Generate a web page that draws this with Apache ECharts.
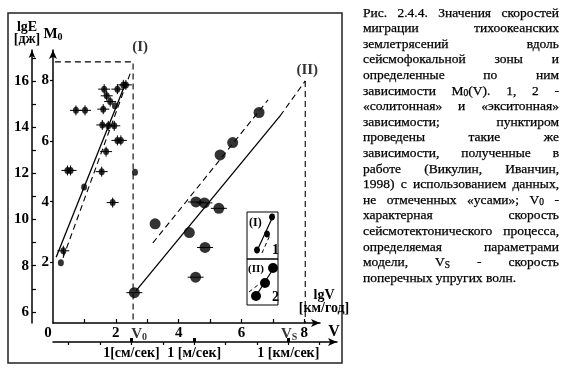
<!DOCTYPE html>
<html><head><meta charset="utf-8">
<script src="https://cdn.jsdelivr.net/npm/echarts@6/dist/echarts.min.js"></script>
<style>html,body{margin:0;padding:0;background:#fff}#c{width:563px;height:375px}</style>
</head><body><div id="c"></div>
<script>
// ---------- DATA ----------
// group (I), "soliton" law, small dots; whiskered = marked with "усы"
const solWhiskV = [1.63, 1.71, 1.82, 2.05, 2.24, 2.32, 0.73, 1.02, 1.60, 1.57, 1.76, 1.95, 2.05, 2.16, 1.69, 1.55, 0.46, 0.56, 1.90, 0.33];
const solWhiskM = [7.71, 7.49, 7.30, 7.71, 7.85, 7.85, 7.01, 7.01, 7.05, 6.53, 6.50, 6.50, 6.02, 6.02, 5.65, 4.99, 5.03, 5.03, 3.97, 2.38];
const solPlainV = [1.97, 2.61, 0.99, 0.25];
const solPlainM = [7.16, 4.97, 4.48, 1.99];
// group (II), "exciton" law, big dots
const excWhiskV = [4.55, 4.82, 5.28, 4.84, 4.54, 2.59];
const excWhiskM = [3.99, 3.96, 3.78, 2.49, 1.51, 1.00];
const excPlainV = [6.56, 5.72, 5.32, 3.25, 4.34];
const excPlainM = [6.94, 5.95, 5.54, 3.27, 2.98];
// fitted dependences
const lineIsolidV = [0.10, 2.32], lineIsolidM = [2.17, 7.93];
const lineIdashV  = [0.32, 2.50], lineIdashM  = [2.15, 8.35];
const lineIIsolidV = [2.64, 7.23], lineIIsolidM = [1.06, 6.83];
const lineIIextV   = [7.23, 8.03], lineIIextM   = [6.83, 7.98];
const lineIIdashV  = [3.18, 6.85], lineIIdashM  = [2.64, 7.36];
// characteristic velocities
const V0 = 2.55, M0top = 8.61, boxLeftV = 0.06;
const Vs = 8.03, VsTop = 7.98;
// axes
const lgVLabels = [0, 2, 4, 6, 8];
const lgVTicks = [1, 2, 3, 4, 5, 6, 7, 8];
const M0Labels = [2, 4, 6, 8];
const lgELabels = [6, 8, 10, 12, 14, 16];
const lgETicks = [6, 7, 8, 9, 10, 11, 12, 13, 14, 15, 16, 17];
const lgEMin = 5.52, lgEMax = 17.34;
const VTicks = [0.5, 1.5, 2.5, 3.5, 4.5, 5.5, 6.5, 7.5, 8.5];
const VLabelVals = [2.5, 4.5, 7.5];
const VLabelTexts = ['1[см/сек]', '1 [м/сек]', '1 [км/сек]'];
// caption
const capLines = [
  'Рис. 2.4.4. Значения скоростей',
  'миграции тихоокеанских',
  'землетрясений вдоль',
  'сейсмофокальной зоны и',
  'определенные по ним',
  'зависимости M_0(V). 1, 2 -',
  '«солитонная» и «экситонная»',
  'зависимости; пунктиром',
  'проведены такие же',
  'зависимости, полученные в',
  'работе (Викулин, Иванчин,',
  '1998) с использованием данных,',
  'не отмеченных «усами»; V_0 -',
  'характерная скорость',
  'сейсмотектонического процесса,',
  'определяемая параметрами',
  'модели, V_S - скорость',
  'поперечных упругих волн.'
];

// ---------- HELPERS ----------
const zip = (a, b) => a.map((v, i) => [v, b[i]]);
const SERIF = '"Liberation Serif", "Times New Roman", serif';
const boldText = (size) => ({ fontFamily: SERIF, fontWeight: 'bold', fontSize: size, color: '#000' });

function whisker(hw, vh) {
  return function (params, api) {
    const p = api.coord([api.value(0), api.value(1)]);
    const st = { stroke: '#000', lineWidth: 1 };
    const ch = [{ type: 'line', shape: { x1: p[0] - hw, y1: p[1], x2: p[0] + hw, y2: p[1] }, style: st }];
    if (vh) ch.push({ type: 'line', shape: { x1: p[0], y1: p[1] - vh, x2: p[0], y2: p[1] + vh }, style: st });
    return { type: 'group', children: ch };
  };
}
function lineSeries(vs, ms, dashed) {
  return {
    type: 'line', data: zip(vs, ms), symbol: 'none', silent: true, animation: false,
    lineStyle: { color: '#000', width: dashed ? 1.1 : 1.3, type: dashed ? [6, 4] : 'solid' }, z: 3
  };
}

// caption layout (justified)
const CAP_X0 = 363, CAP_X1 = 559, CAP_Y0 = 13, CAP_DY = 15.6, CAP_FS = 13.5;
const ctx = document.createElement('canvas').getContext('2d');
function wordWidth(w) {
  let tot = 0;
  w.split(/(_.)/).forEach(p => {
    if (!p) return;
    if (p[0] === '_') { ctx.font = (CAP_FS * 0.7) + 'px ' + SERIF; tot += ctx.measureText(p[1]).width; }
    else { ctx.font = CAP_FS + 'px ' + SERIF; tot += ctx.measureText(p).width; }
  });
  return tot;
}
const toRich = w => w.replace(/_(.)/g, '{s|$1}');
const capRich = {
  s: { fontSize: CAP_FS * 0.7, fontFamily: SERIF, fill: '#000', padding: [5, 0, 0, 0] }
};
const captionEls = [];
capLines.forEach((line, i) => {
  const words = line.split(' ');
  const widths = words.map(wordWidth);
  const sum = widths.reduce((a, b) => a + b, 0);
  const last = i === capLines.length - 1;
  const gap = (last || words.length < 2) ? wordWidth(' ') : (CAP_X1 - CAP_X0 - sum) / (words.length - 1);
  let x = CAP_X0;
  const y = CAP_Y0 + CAP_DY * i;
  words.forEach((w, k) => {
    captionEls.push({
      type: 'text', x: x, y: y, silent: true,
      style: { text: toRich(w), fontSize: CAP_FS, fontFamily: SERIF, fill: '#000', stroke: '#000', lineWidth: 0.25, verticalAlign: 'middle', align: 'left', rich: capRich }
    });
    x += widths[k] + gap;
  });
});

// legend inset (decoration)
const legendEls = [
  { type: 'rect', shape: { x: 247, y: 212, width: 31, height: 47 }, style: { fill: 'none', stroke: '#000', lineWidth: 1 } },
  { type: 'rect', shape: { x: 247, y: 259, width: 31, height: 46 }, style: { fill: 'none', stroke: '#000', lineWidth: 1 } },
  { type: 'text', x: 249, y: 223, style: { text: '(I)', font: 'bold 12px ' + SERIF, fill: '#000', verticalAlign: 'middle' } },
  { type: 'line', shape: { x1: 256, y1: 253, x2: 274, y2: 214 }, style: { stroke: '#000', lineWidth: 1.2 } },
  { type: 'line', shape: { x1: 262, y1: 253, x2: 270, y2: 235 }, style: { stroke: '#000', lineWidth: 1, lineDash: [4, 3] } },
  { type: 'ellipse', shape: { cx: 272, cy: 217, rx: 3, ry: 3.5 }, style: { fill: '#000' } },
  { type: 'ellipse', shape: { cx: 267, cy: 234, rx: 3, ry: 3.5 }, style: { fill: '#000' } },
  { type: 'ellipse', shape: { cx: 257, cy: 250, rx: 3, ry: 3.5 }, style: { fill: '#000' } },
  { type: 'text', x: 272, y: 250, style: { text: '1', font: 'bold 14px ' + SERIF, fill: '#000', verticalAlign: 'middle' } },
  { type: 'text', x: 248, y: 269, style: { text: '(II)', font: 'bold 11px ' + SERIF, fill: '#000', verticalAlign: 'middle' } },
  { type: 'line', shape: { x1: 254, y1: 299, x2: 275, y2: 266 }, style: { stroke: '#000', lineWidth: 1.2 } },
  { type: 'line', shape: { x1: 249, y1: 292, x2: 263, y2: 281 }, style: { stroke: '#000', lineWidth: 1, lineDash: [4, 3] } },
  { type: 'circle', shape: { cx: 273, cy: 268, r: 5 }, style: { fill: '#000' } },
  { type: 'circle', shape: { cx: 265, cy: 283, r: 5 }, style: { fill: '#000' } },
  { type: 'circle', shape: { cx: 256, cy: 296, r: 5 }, style: { fill: '#000' } },
  { type: 'text', x: 272, y: 297, style: { text: '2', font: 'bold 14px ' + SERIF, fill: '#000', verticalAlign: 'middle' } }
];

const axisLineStyle = { color: '#000', width: 1.5 };
const subRich = (size, pad) => ({ s: { fontFamily: SERIF, fontWeight: 'bold', fontSize: size, color: '#000', padding: [pad, 0, 0, 0] } });

const chart = echarts.init(document.getElementById('c'), null, { renderer: 'canvas' });
chart.setOption({
  animation: false,
  backgroundColor: '#fff',
  grid: [
    { left: 53, top: 50, width: 267, height: 273 },
    { left: 53, top: 332, width: 284, height: 10 }
  ],
  xAxis: [
    {
      gridIndex: 0, type: 'value', min: 0, max: 8.5,
      axisLine: { lineStyle: axisLineStyle, symbol: ['none', 'arrow'], symbolSize: [6, 9] },
      axisTick: { inside: true, length: 4, customValues: lgVTicks, lineStyle: { color: '#000', width: 1.2 } },
      axisLabel: {
        customValues: lgVLabels, margin: 3, ...boldText(15),
        formatter: v => v === 0 ? '{z|0}' : String(v),
        rich: { z: { ...boldText(15), padding: [0, 10, 0, 0] } }
      },
      splitLine: { show: false },
      name: 'lgV\n[км/год]', nameLocation: 'end', nameGap: 4,
      nameTextStyle: { ...boldText(14), align: 'center', verticalAlign: 'bottom', lineHeight: 13, padding: [0, 0, 8, 0] }
    },
    {
      gridIndex: 1, type: 'value', min: 0, max: 9.05, position: 'bottom',
      axisLine: { lineStyle: axisLineStyle, symbol: ['none', 'arrow'], symbolSize: [6, 9] },
      axisTick: { inside: false, length: 3, customValues: VTicks, lineStyle: { color: '#000', width: 1.2 } },
      axisLabel: {
        customValues: VLabelVals, margin: 4, ...boldText(14),
        formatter: v => VLabelTexts[VLabelVals.indexOf(v)] || ''
      },
      splitLine: { show: false },
      name: 'V', nameLocation: 'end', nameGap: -3,
      nameTextStyle: { ...boldText(16), align: 'center', verticalAlign: 'bottom', padding: [0, 0, 2, 0] }
    },
    {
      gridIndex: 1, type: 'value', min: 0, max: 9.05, position: 'bottom',
      axisLine: { show: false },
      axisTick: { inside: true, length: 4, customValues: VLabelVals, lineStyle: { color: '#000', width: 3 } },
      axisLabel: { show: false }, splitLine: { show: false }
    }
  ],
  yAxis: [
    {
      gridIndex: 0, type: 'value', min: 0, max: 9,
      axisLine: { lineStyle: axisLineStyle, symbol: ['none', 'arrow'], symbolSize: [6, 9] },
      axisTick: { inside: false, length: 3, customValues: M0Labels, lineStyle: { color: '#000', width: 1.2 } },
      axisLabel: { customValues: M0Labels, margin: 4, ...boldText(15) },
      splitLine: { show: false },
      name: 'M{s|0}', nameLocation: 'end', nameGap: 8,
      nameTextStyle: { ...boldText(15), align: 'center', verticalAlign: 'bottom', rich: subRich(10, 6) }
    },
    {
      gridIndex: 0, type: 'value', min: lgEMin, max: lgEMax, position: 'left', offset: 21,
      axisLine: { lineStyle: axisLineStyle, symbol: ['none', 'arrow'], symbolSize: [5, 8] },
      axisTick: { inside: true, length: 4, customValues: lgETicks, lineStyle: { color: '#000', width: 1.2 } },
      axisLabel: { customValues: lgELabels, margin: 3, ...boldText(15) },
      splitLine: { show: false },
      name: 'lgE\n[дж]', nameLocation: 'end', nameGap: 5,
      nameTextStyle: { ...boldText(14), align: 'center', verticalAlign: 'bottom', lineHeight: 12, padding: [0, 10, 0, 0] }
    },
    { gridIndex: 1, type: 'value', show: false, min: 0, max: 1 }
  ],
  series: [
    lineSeries(lineIsolidV, lineIsolidM, false),
    lineSeries(lineIdashV, lineIdashM, true),
    lineSeries(lineIIsolidV, lineIIsolidM, false),
    lineSeries(lineIIextV, lineIIextM, true),
    lineSeries(lineIIdashV, lineIIdashM, true),
    lineSeries([boxLeftV, V0, V0], [M0top, M0top, 0], true),
    lineSeries([Vs, Vs], [VsTop, 0], true),
    {
      type: 'custom', renderItem: whisker(6, 5), data: zip(solWhiskV, solWhiskM), silent: true, z: 4, clip: false
    },
    {
      type: 'custom', renderItem: whisker(8, 0), data: zip(excWhiskV, excWhiskM), silent: true, z: 4, clip: false
    },
    {
      type: 'scatter', data: zip(solWhiskV, solWhiskM).concat(zip(solPlainV, solPlainM)),
      symbol: 'circle', symbolSize: [6, 7], itemStyle: { color: '#000' }, z: 5, silent: true
    },
    {
      type: 'scatter', data: zip(excWhiskV, excWhiskM).concat(zip(excPlainV, excPlainM)),
      symbol: 'circle', symbolSize: 11, itemStyle: { color: '#000' }, z: 5, silent: true
    },
    {
      type: 'scatter', symbolSize: 0, silent: true, z: 6, clip: false,
      data: [
        { value: [V0, M0top], label: { show: true, formatter: '(I)', position: 'top', distance: 4, offset: [7, -3] } },
        { value: [Vs, VsTop], label: { show: true, formatter: '(II)', position: 'top', distance: 3, offset: [2, 0] } },
        { value: [V0, 0], label: { show: true, formatter: 'V{s|0}', position: 'bottom', distance: 3, offset: [6, 0] } },
        { value: [Vs, 0], label: { show: true, formatter: 'V{s|S}', position: 'bottom', distance: 3, offset: [-16, 0] } }
      ],
      label: { ...boldText(15), rich: subRich(10, 6) }
    }
  ],
  graphic: [
    { type: 'rect', shape: { x: 8, y: 13, width: 334, height: 350 }, style: { fill: 'none', stroke: '#222', lineWidth: 1.5 }, silent: true },
    ...legendEls,
    ...captionEls
  ]
});
</script>
</body></html>
